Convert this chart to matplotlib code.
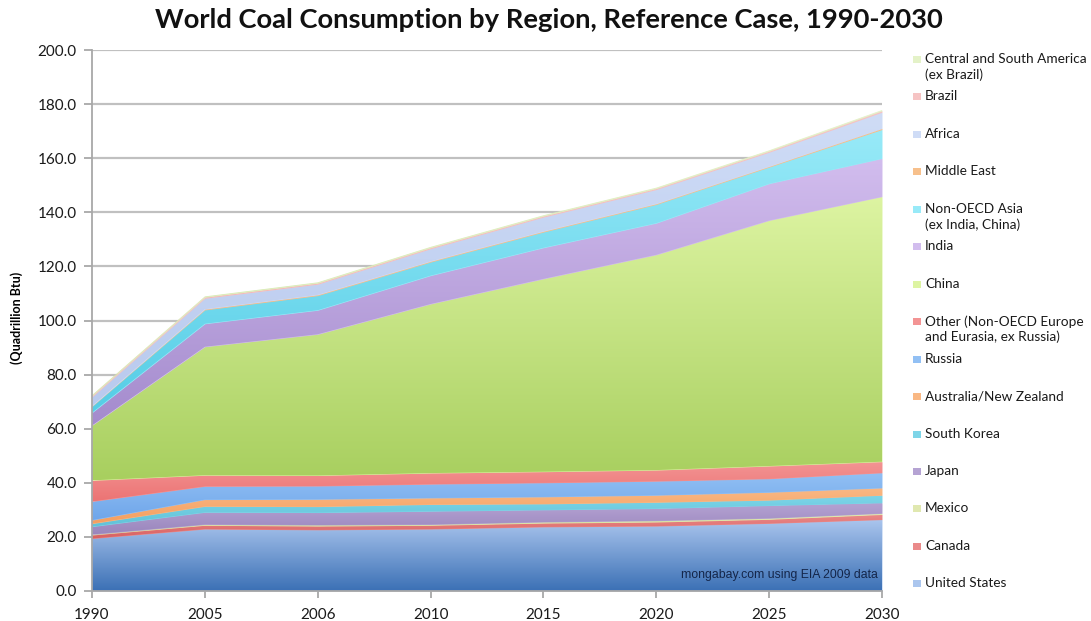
import numpy as np
import matplotlib.pyplot as plt
from matplotlib.colors import LinearSegmentedColormap
from matplotlib.patches import Rectangle

years = ["1990", "2005", "2006", "2010", "2015", "2020", "2025", "2030"]

regions = ["United States", "Canada", "Mexico", "Japan", "South Korea",
           "Australia/New Zealand", "Russia",
           "Other (Non-OECD Europe\nand Eurasia, ex Russia)", "China", "India",
           "Non-OECD Asia\n(ex India, China)", "Middle East", "Africa", "Brazil",
           "Central and South America\n(ex Brazil)"]

# quadrillion Btu
united_states = [19.4, 22.9, 22.6, 22.9, 23.7, 24.0, 25.0, 26.4]
canada = [1.3, 1.4, 1.4, 1.4, 1.4, 1.5, 1.5, 1.9]
mexico = [0.2, 0.3, 0.4, 0.3, 0.4, 0.5, 0.4, 0.4]
japan = [2.9, 4.5, 4.6, 4.9, 4.5, 4.5, 4.7, 3.9]
south_korea = [1.1, 2.2, 2.2, 2.5, 2.2, 2.3, 2.0, 2.8]
australia_nz = [1.3, 2.5, 2.7, 2.4, 2.6, 2.6, 2.9, 2.7]
russia = [6.9, 4.9, 4.9, 5.1, 5.2, 5.2, 5.0, 5.6]
other_europe = [7.8, 4.1, 3.9, 4.1, 4.1, 4.1, 4.7, 4.1]
china = [20.3, 47.5, 52.2, 62.5, 71.3, 79.6, 90.8, 98.0]
india = [4.7, 8.5, 8.9, 10.5, 11.5, 11.7, 13.6, 14.1]
other_asia = [2.3, 5.1, 5.4, 5.0, 5.8, 6.9, 6.1, 10.7]
middle_east = [0.2, 0.3, 0.3, 0.3, 0.3, 0.3, 0.3, 0.4]
africa = [3.3, 4.0, 3.9, 4.6, 5.2, 5.2, 5.2, 6.0]
brazil = [0.4, 0.4, 0.4, 0.4, 0.4, 0.4, 0.4, 0.5]
central_south_america = [0.3, 0.3, 0.3, 0.3, 0.3, 0.3, 0.3, 0.3]

series = [united_states, canada, mexico, japan, south_korea, australia_nz,
          russia, other_europe, china, india, other_asia, middle_east,
          africa, brazil, central_south_america]

# (bottom colour, top colour) for the Excel-style gradient fills
colors = [("#3b70b5", "#abc6ee"), ("#d86060", "#ea8a8a"), ("#c8d88a", "#e0e8b0"),
          ("#9a86bd", "#b5a3d3"), ("#5fc2d8", "#7ed5e8"), ("#f59e5e", "#f9b884"),
          ("#6fa6ea", "#92c0f4"), ("#ec7474", "#f39494"), ("#a8cf5f", "#ddf4a2"),
          ("#a48bcd", "#d2bdee"), ("#55cde6", "#98eaf8"), ("#f3a868", "#f7c08c"),
          ("#b9caee", "#cfdcf6"), ("#f0a8a8", "#f6c4c4"), ("#d2e8a8", "#e4f2c8")]

fig = plt.figure(figsize=(10.91, 6.21), dpi=100)
ax = fig.add_axes([92 / 1091, 1 - 591 / 621, 790 / 1091, 541 / 621])

x = np.arange(len(years))
base = np.zeros(len(years))
grad = np.linspace(0, 1, 256).reshape(-1, 1)
for vals, (c0, c1) in zip(series, colors):
    top = base + np.array(vals)
    poly = ax.fill_between(x, base, top, color=c1, lw=0, zorder=2)
    cmap = LinearSegmentedColormap.from_list("g", [c0, c1])
    im = ax.imshow(grad, extent=[x[0], x[-1], base.min(), top.max()],
                   origin="lower", aspect="auto", cmap=cmap, zorder=2)
    im.set_clip_path(poly.get_paths()[0], transform=ax.transData)
    base = top

ax.set_xlim(0, len(years) - 1)
ax.set_ylim(0, 200)
ax.set_yticks(np.arange(0, 201, 20))
ax.set_yticklabels([f"{v:.1f}" for v in np.arange(0, 201, 20)])
ax.set_xticks(x)
ax.set_xticklabels(years)
ax.yaxis.grid(True, color="#c0c0c0", lw=1.6)
ax.set_axisbelow(True)
for s in ["top", "right"]:
    ax.spines[s].set_visible(False)
for s in ["left", "bottom"]:
    ax.spines[s].set_color("#a8a8a8")
    ax.spines[s].set_linewidth(1.3)
ax.tick_params(axis="y", length=6, color="#a8a8a8", width=1.3, pad=5,
               labelsize=11)
ax.tick_params(axis="x", length=5, color="#a8a8a8", width=1.3, pad=7,
               labelsize=11)
for lab in ax.get_xticklabels() + ax.get_yticklabels():
    lab.set_fontfamily("Lato")
    lab.set_color("#1a1a1a")

fig.text(0.503, 1 - 20 / 621, "World Coal Consumption by Region, Reference Case, 1990-2030",
         ha="center", va="center", fontsize=19.7, fontweight="bold",
         family="Lato", color="#111111")
fig.text(17 / 1091, 1 - 318 / 621, "(Quadrillion Btu)", rotation=90,
         ha="center", va="center", fontsize=9, fontweight="bold", family="Lato")

ax.text(0.995, 0.018, "mongabay.com using EIA 2009 data", transform=ax.transAxes,
        ha="right", va="bottom", fontsize=8.8, family="Liberation Sans",
        color="#14264a", zorder=5)

# legend, top entry is the last series
for i, (name, (c0, c1)) in enumerate(zip(regions[::-1], colors[::-1])):
    ypix = 60 + 37.45 * i
    fig.patches.append(Rectangle((913 / 1091, 1 - (ypix + 3) / 621), 8 / 1091, 7 / 621,
                                 transform=fig.transFigure, facecolor=c1, lw=0))
    fig.text(925 / 1091, 1 - (ypix - 7) / 621, name, ha="left", va="top",
             fontsize=9.8, family="Lato", color="#1a1a1a", linespacing=1.3)

fig.savefig("out.png", dpi=100)
